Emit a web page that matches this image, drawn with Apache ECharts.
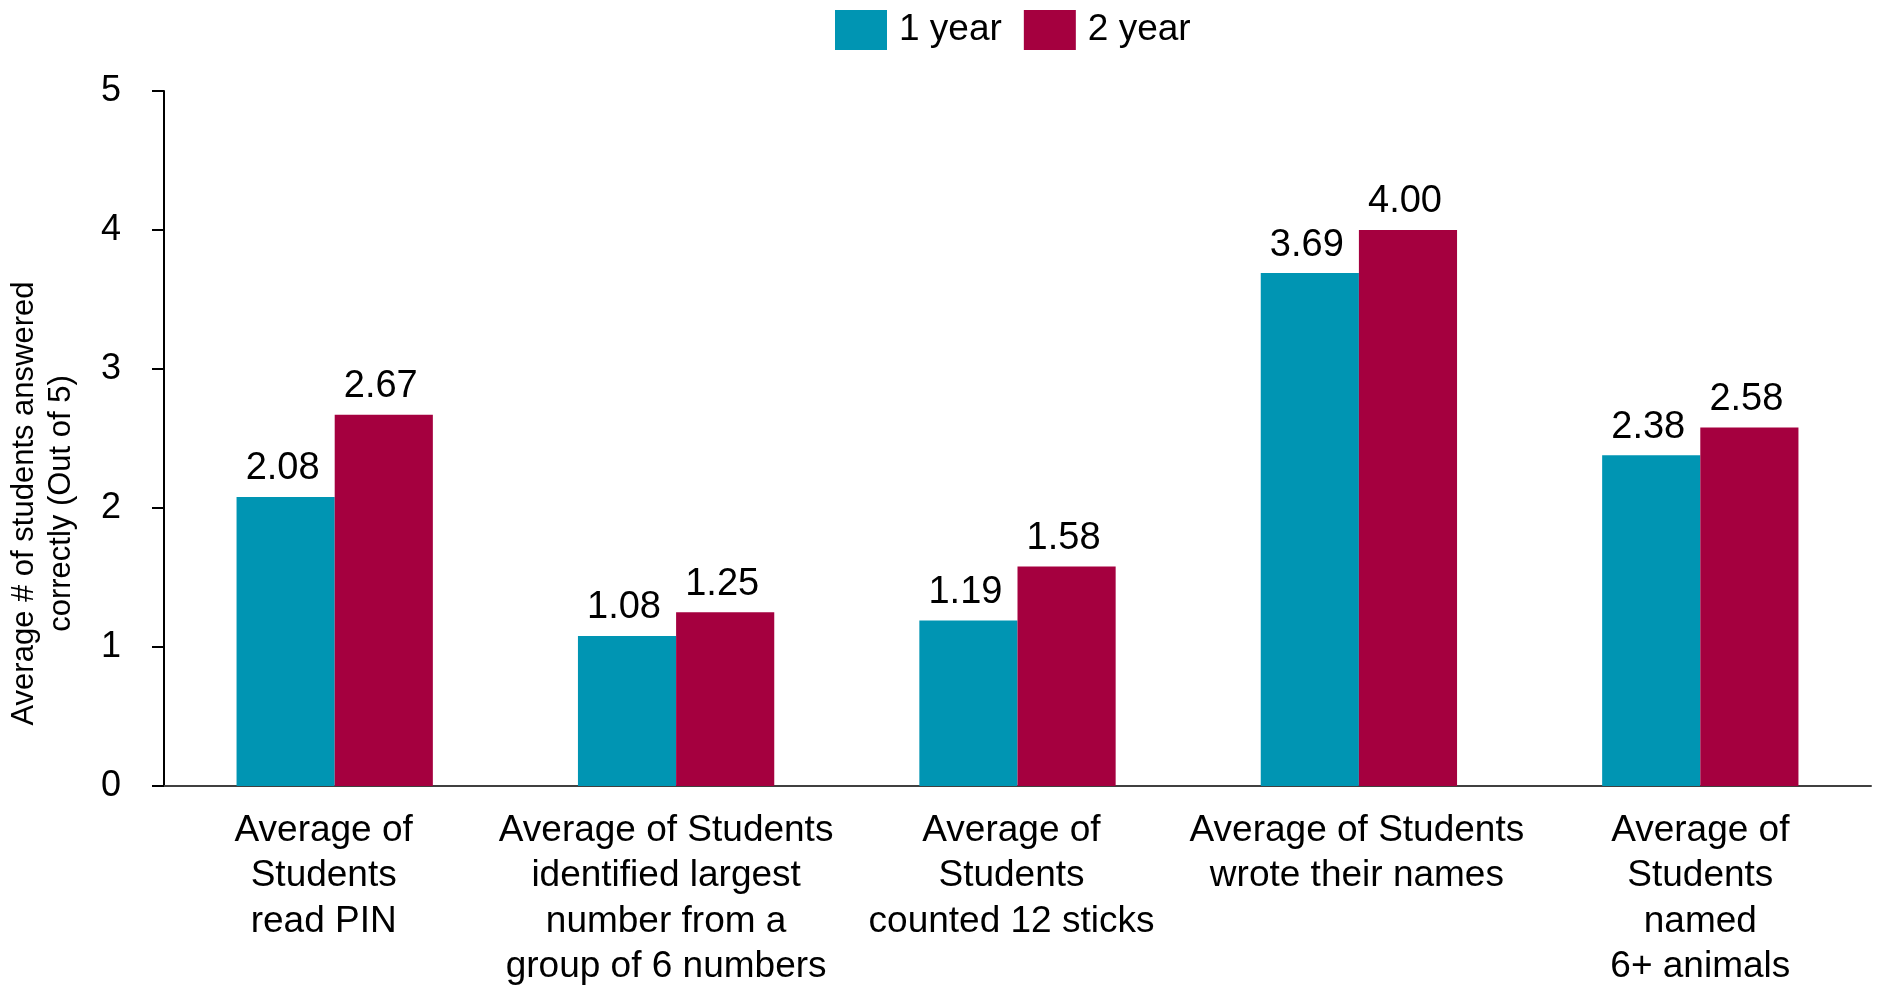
<!DOCTYPE html>
<html>
<head>
<meta charset="utf-8">
<script src="https://cdn.jsdelivr.net/npm/echarts@6/dist/echarts.min.js"></script>
<style>
  html, body { margin: 0; padding: 0; background: #ffffff; }
  #chart { width: 1878px; height: 985px; }
</style>
</head>
<body>
<div id="chart"></div>
<script>
// Categories (skill assessed) and the two cohorts' averages
const categories = [
  'Average of\nStudents\nread PIN',
  'Average of Students\nidentified largest\nnumber from a\ngroup of 6 numbers',
  'Average of\nStudents\ncounted 12 sticks',
  'Average of Students\nwrote their names',
  'Average of\nStudents\nnamed\n6+ animals'
];
const oneYear = [2.08, 1.08, 1.19, 3.69, 2.38];
const twoYear = [2.67, 1.25, 1.58, 4.00, 2.58];
const seriesNames = ['1 year', '2 year'];
const yTicks = { min: 0, max: 5, interval: 1 };
const yTitle = 'Average # of students answered\ncorrectly (Out of 5)';

const FONT = "'Liberation Sans', Arial, Helvetica, sans-serif";
const TEAL = '#0095B3';
const CRIMSON = '#A5003F';

// category labels sit a little left of their bar pair, more so on the left side
const labelShift = [11, 10, 6, 2, 0];

const chart = echarts.init(document.getElementById('chart'), null, { renderer: 'canvas' });

const valueLabel = {
  show: true,
  position: 'top',
  distance: 9,
  offset: [-3, 0],
  fontFamily: FONT,
  fontSize: 38,
  color: '#000',
  formatter: p => Number(p.value).toFixed(2)
};

chart.setOption({
  animation: false,
  backgroundColor: '#ffffff',
  textStyle: { fontFamily: FONT },
  legend: {
    data: seriesNames,
    left: 835,
    top: 10,
    padding: 0,
    itemWidth: 52,
    itemHeight: 40,
    itemGap: 22,
    icon: 'rect',
    textStyle: { fontFamily: FONT, fontSize: 37, color: '#000', padding: [4, 0, 0, 7] }
  },
  grid: { left: 164, right: 7, top: 91, bottom: 199, containLabel: false, outerBoundsMode: 'none' },
  xAxis: {
    type: 'category',
    data: categories.map((c, i) => ({
      value: c,
      textStyle: { padding: [0, labelShift[i] * 2, 0, 0] }
    })),
    axisLine: { lineStyle: { color: '#404040', width: 2 } },
    axisTick: { show: false },
    axisLabel: {
      interval: 0,
      margin: 22,
      fontFamily: FONT,
      fontSize: 37,
      lineHeight: 45.5,
      color: '#000',
      align: 'center'
    }
  },
  yAxis: {
    type: 'value',
    min: yTicks.min,
    max: yTicks.max,
    interval: yTicks.interval,
    name: yTitle,
    nameLocation: 'middle',
    nameRotate: 90,
    nameGap: 84,
    nameTextStyle: {
      fontFamily: FONT,
      fontSize: 31,
      lineHeight: 37,
      color: '#000',
      align: 'center',
      padding: [0, 130, 0, 0]
    },
    axisLine: { show: true, lineStyle: { color: '#000', width: 2 } },
    axisTick: { show: true, length: 12, lineStyle: { color: '#000', width: 2 } },
    splitLine: { show: false },
    axisLabel: {
      margin: 43,
      fontFamily: FONT,
      fontSize: 36,
      color: '#000'
    }
  },
  series: [
    {
      name: seriesNames[0],
      type: 'bar',
      data: oneYear,
      itemStyle: { color: TEAL },
      barGap: '0%',
      barCategoryGap: '42.5%',
      label: valueLabel
    },
    {
      name: seriesNames[1],
      type: 'bar',
      data: twoYear,
      itemStyle: { color: CRIMSON },
      barGap: '0%',
      barCategoryGap: '42.5%',
      label: valueLabel
    }
  ]
});
</script>
</body>
</html>
